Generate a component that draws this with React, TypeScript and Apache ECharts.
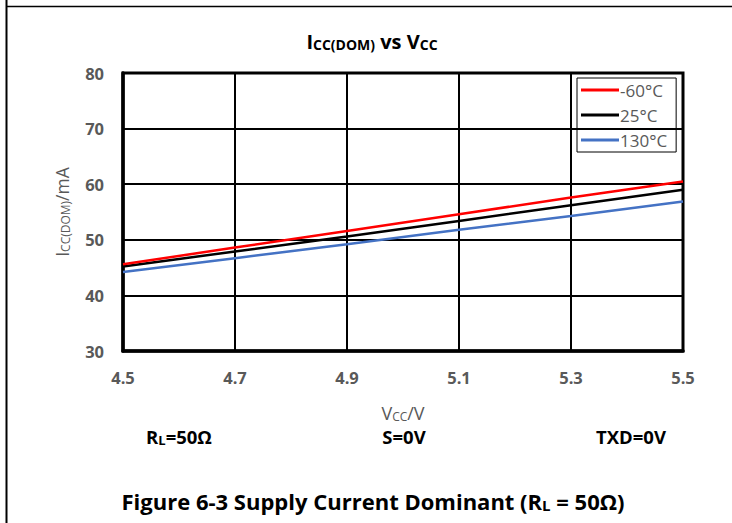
import { useEffect, useRef } from "react";
import * as echarts from "echarts";

// Supply voltage points (V) and the dominant supply current at each temperature (mA)
const vccLabels = ["4.5", "4.7", "4.9", "5.1", "5.3", "5.5"];
const tempNames = ["-60°C", "25°C", "130°C"];
const iccMinus60 = [45.6, 48.6, 51.6, 54.6, 57.6, 60.5];
const icc25 = [45.2, 47.9, 50.6, 53.4, 56.2, 59.0];
const icc130 = [44.2, 46.7, 49.2, 51.8, 54.3, 56.9];
const tempColors = ["#FF0000", "#000000", "#4472C4"];
const yMin = 30;
const yMax = 80;
const yStep = 10;

const FONT = "'Open Sans', Lato, sans-serif";
const GREY = "#595959";

export default function App() {
  const ref = useRef<HTMLDivElement>(null);

  useEffect(() => {
    if (!ref.current) return;
    const chart = echarts.init(ref.current, undefined, { renderer: "svg" });
    const seriesData = [iccMinus60, icc25, icc130];

    // rich-text styles: normal run plus a lowered, smaller subscript run
    const sub = (size: number, color: string, bold: boolean, ratio = 0.68) => ({
      main: { fontSize: size, fontWeight: bold ? "bold" : "normal", color, fontFamily: FONT, lineHeight: size + 10, verticalAlign: "bottom" },
      sub: { fontSize: Math.round(size * ratio), fontWeight: bold ? "bold" : "normal", color, fontFamily: FONT, lineHeight: Math.round(size * ratio) + 1, verticalAlign: "bottom" },
    });

    chart.setOption({
      animation: false,
      backgroundColor: "#ffffff",
      grid: {
        left: 123,
        top: 73,
        width: 560,
        height: 278,
        show: true,
        borderColor: "#000",
        borderWidth: 3,
        containLabel: false,
      },
      legend: {
        data: tempNames,
        orient: "vertical",
        left: 577,
        top: 78,
        padding: [3, 9, 3, 4],
        itemGap: 7,
        itemWidth: 38,
        itemHeight: 3,
        icon: "rect",
        borderColor: "#000",
        borderWidth: 1,
        textStyle: { fontFamily: FONT, fontSize: 17, color: GREY, lineHeight: 18, padding: [0, 0, 0, -4] },
      },
      xAxis: {
        type: "category",
        data: vccLabels,
        boundaryGap: false,
        axisLine: { show: true, lineStyle: { color: "#000", width: 3.5 } },
        axisTick: { show: false },
        axisLabel: { fontFamily: FONT, fontSize: 16.5, fontWeight: "bold", color: GREY, margin: 18 },
        splitLine: { show: true, lineStyle: { color: "#000", width: 2 } },
        name: "{main|V}{sub|CC}{main|/V}",
        nameLocation: "middle",
        nameGap: 43,
        nameTextStyle: { rich: sub(18, GREY, false) },
      },
      yAxis: {
        type: "value",
        min: yMin,
        max: yMax,
        interval: yStep,
        axisLine: { show: true, lineStyle: { color: "#000", width: 3.5 } },
        axisTick: { show: false },
        axisLabel: { fontFamily: FONT, fontSize: 16.5, fontWeight: "bold", color: GREY, margin: 19 },
        splitLine: { show: true, lineStyle: { color: "#000", width: 2 } },
        name: "{main|I}{sub|CC(DOM)}{main|/mA}",
        nameLocation: "middle",
        nameGap: 52,
        nameTextStyle: { rich: sub(17.5, GREY, false) },
      },
      series: tempNames.map((name, i) => ({
        name,
        type: "line",
        data: seriesData[i],
        showSymbol: false,
        symbol: "none",
        lineStyle: { color: tempColors[i], width: 2.5 },
        itemStyle: { color: tempColors[i] },
        z: 5 - i,
      })),
      graphic: [
        // page frame
        { type: "line", shape: { x1: 6.5, y1: 0, x2: 6.5, y2: 523 }, style: { stroke: "#000", lineWidth: 2 } },
        { type: "line", shape: { x1: 6, y1: 6.5, x2: 732, y2: 6.5 }, style: { stroke: "#000", lineWidth: 1.5 } },
        {
          type: "text",
          x: 372,
          y: 36,
          style: {
            text: "{main|I}{sub|CC(DOM)}{main| vs V}{sub|CC}",
            align: "center",
            verticalAlign: "middle",
            rich: sub(20, GREY, true, 0.68),
          },
        },
        {
          type: "text",
          x: 179,
          y: 432,
          style: { text: "{main|R}{sub|L}{main|=50Ω}", align: "center", verticalAlign: "middle", rich: sub(18.5, "#000", true) },
        },
        {
          type: "text",
          x: 404,
          y: 432,
          style: { text: "{main|S=0V}", align: "center", verticalAlign: "middle", rich: sub(18.5, "#000", true) },
        },
        {
          type: "text",
          x: 631,
          y: 432,
          style: { text: "{main|TXD=0V}", align: "center", verticalAlign: "middle", rich: sub(18.5, "#000", true) },
        },
        {
          type: "text",
          x: 373,
          y: 496,
          style: {
            text: "{main|Figure 6-3 Supply Current Dominant (R}{sub|L}{main| = 50Ω)}",
            align: "center",
            verticalAlign: "middle",
            rich: sub(22, "#000", true),
          },
        },
      ],
    });

    return () => chart.dispose();
  }, []);

  return (
    <div
      ref={ref}
      style={{ position: "fixed", left: 0, top: 0, width: 732, height: 523, background: "#fff" }}
    />
  );
}
